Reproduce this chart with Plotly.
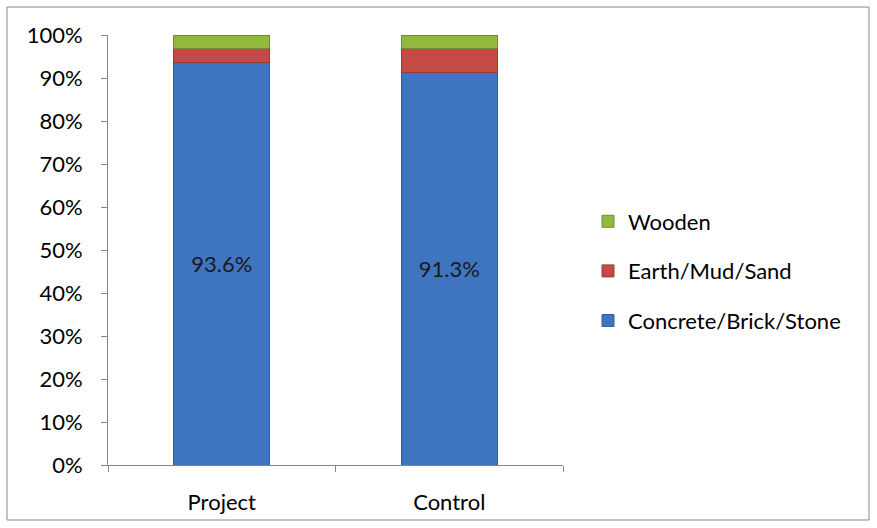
import plotly.graph_objects as go

# Housing wall material by survey group (share of households, %)
groups = ["Project", "Control"]
concrete = [93.6, 91.3]
earth = [3.3, 5.6]
wooden = [3.1, 3.1]
y_ticks = [0, 10, 20, 30, 40, 50, 60, 70, 80, 90, 100]
y_tick_text = [f"{v}%" for v in y_ticks]

FONT = "Lato"
FS = 22
W, H = 877, 528
L, R, T, B = 108, 314, 35, 63

fig = go.Figure()
series = [
    ("Concrete/Brick/Stone", concrete, "#3f74c0", "#355f9c", True, 3),
    ("Earth/Mud/Sand", earth, "#c44a45", "#9a3935", False, 2),
    ("Wooden", wooden, "#93b83f", "#718f30", False, 1),
]
for name, vals, color, edge, labelled, rank in series:
    fig.add_trace(go.Bar(
        x=groups, y=vals, name=name, legendgroup=name, legendrank=rank,
        marker=dict(color=color, line=dict(color=edge, width=1)),
        width=0.42,
        text=[f"{v:.1f}%" for v in vals] if labelled else None,
        textposition="inside" if labelled else "none",
        insidetextanchor="middle",
        textfont=dict(family=FONT, size=FS, color="#1a1a1a"),
        hoverinfo="skip",
    ))

pw = W - L - R
ph = H - T - B
# chart-area frame
fig.add_shape(
    type="rect", xref="paper", yref="paper",
    x0=(7 - L) / pw, x1=(869 - L) / pw,
    y0=(H - B - 520) / ph, y1=(H - B - 7) / ph,
    line=dict(color="#868686", width=1), layer="below",
)

fig.update_layout(
    width=W, height=H,
    margin=dict(l=L, r=R, t=T, b=B),
    barmode="stack",
    plot_bgcolor="white", paper_bgcolor="white",
    font=dict(family=FONT, size=FS, color="#000000"),
    showlegend=True,
    legend=dict(
        traceorder="grouped", x=(588 - L) / pw, y=(H - B - 271) / ph,
        xanchor="left", yanchor="middle",
        font=dict(family=FONT, size=FS), tracegroupgap=18,
        itemwidth=30,
    ),
    xaxis=dict(
        showline=True, linecolor="#868686", linewidth=1,
        ticks="outside", ticklen=6, tickcolor="#868686", tickson="boundaries",
        ticklabelstandoff=18,
        showgrid=False, tickfont=dict(family=FONT, size=FS),
    ),
    yaxis=dict(
        range=[0, 100], tickvals=y_ticks, ticktext=y_tick_text,
        showline=True, linecolor="#868686", linewidth=1,
        ticks="outside", ticklen=6, tickcolor="#868686",
        ticklabelstandoff=14,
        showgrid=False, zeroline=False, tickfont=dict(family=FONT, size=FS),
    ),
)

fig.write_html("out.html")
